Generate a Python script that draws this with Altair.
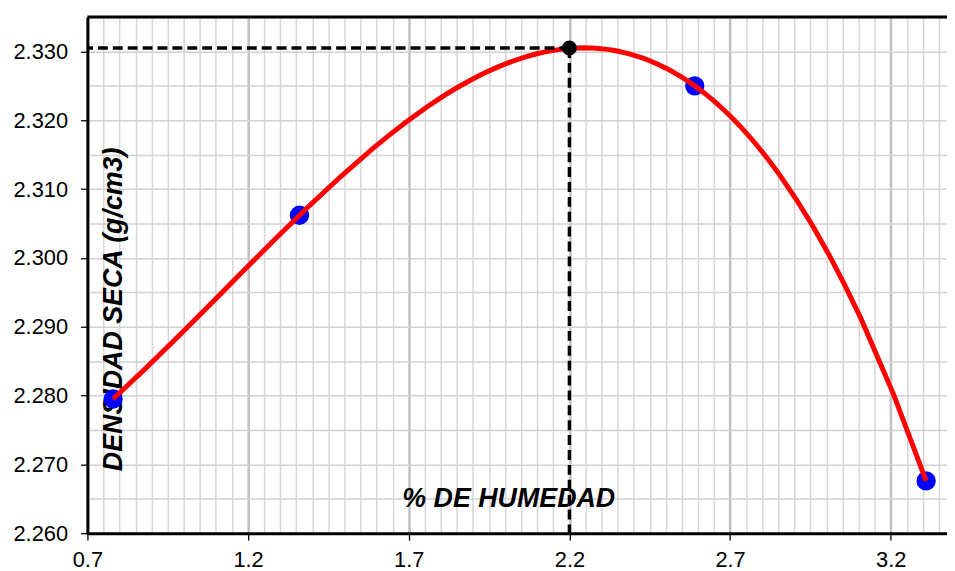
import altair as alt
import pandas as pd

# Data
humedad = [0.78, 1.36, 2.59, 3.31]
densidad = [2.2795, 2.3062, 2.3250, 2.2676]
omc = [2.2]
mdd = [2.3305]

x_ticks = [round(0.7 + 0.05 * i, 2) for i in range(54)]
y_ticks = [round(2.26 + 0.005 * i, 3) for i in range(16)]

W, H = 866, 520
pts = pd.DataFrame({"x": humedad, "y": densidad})
opt = pd.DataFrame({"x": omc, "y": mdd})

x_major = "abs((datum.value-0.7)/0.5 - round((datum.value-0.7)/0.5)) < 0.001"
y_major = "abs((datum.value-2.26)/0.01 - round((datum.value-2.26)/0.01)) < 0.001"

xscale = alt.Scale(domain=[0.7, 3.375], nice=False, zero=False)
yscale = alt.Scale(domain=[2.26, 2.335], nice=False, zero=False)

xaxis = alt.Axis(
    values=x_ticks,
    labelExpr=f"{x_major} ? format(datum.value, '.1f') : ''",
    labelOverlap=False, labelFlush=False,
    labelFont="Liberation Sans", labelFontSize=22, labelColor="black",
    labelPadding=10,
    tickSize=7, tickColor="black", tickWidth=1.3,
    tickOpacity={"condition": {"test": x_major, "value": 1}, "value": 0},
    domainColor="black", domainWidth=3,
    grid=True,
    gridColor={"condition": {"test": x_major, "value": "#c0c0c0"}, "value": "#d6d6d6"},
    gridWidth={"condition": {"test": x_major, "value": 2.5}, "value": 1.5},
    title="% DE HUMEDAD",
    titleFont="Liberation Sans", titleFontSize=27, titleFontWeight="bold",
    titleFontStyle="italic", titleColor="black",
    titleX=424, titleY=-27, titleAlign="center", titleBaseline="alphabetic",
)
yaxis = alt.Axis(
    values=y_ticks,
    labelExpr=f"{y_major} ? format(datum.value, '.3f') : ''",
    labelOverlap=False, labelFlush=False,
    labelFont="Liberation Sans", labelFontSize=22, labelColor="black",
    labelPadding=13,
    tickSize=7, tickColor="black", tickWidth=1.3,
    tickOpacity={"condition": {"test": y_major, "value": 1}, "value": 0},
    domainColor="black", domainWidth=3,
    grid=True, gridColor="#d2d2d2", gridWidth=1.5,
    title="DENSIDAD SECA (g/cm3)",
    titleFont="Liberation Sans", titleFontSize=27, titleFontWeight="bold",
    titleFontStyle="italic", titleColor="black",
    titleAngle=270, titleX=34, titleY=294, titleAlign="center",
    titleBaseline="alphabetic",
)

X = alt.X("x:Q", scale=xscale, axis=xaxis)
Y = alt.Y("y:Q", scale=yscale, axis=yaxis)

base = alt.Chart(pts)

points = base.mark_circle(color="#0000ff", opacity=1, size=380).encode(x=X, y=Y)

curve = base.transform_regression("x", "y", method="poly", order=3).mark_line(
    color="#ff0000", strokeWidth=5
).encode(x=X, y=Y)

hline = alt.Chart(opt).mark_rule(color="black", strokeWidth=3.5, strokeDash=[10, 5]).encode(
    x=X, x2=alt.datum(0.7), y=Y
)
vline = alt.Chart(opt).mark_rule(color="black", strokeWidth=3.5, strokeDash=[10, 5]).encode(
    x=X, y=Y, y2=alt.datum(2.26)
)
optpt = alt.Chart(opt).mark_circle(color="black", opacity=1, size=230).encode(x=X, y=Y)

topline = alt.Chart(opt).mark_rule(color="black", strokeWidth=3).encode(
    x=alt.value(0), x2=alt.value(W), y=alt.value(0)
)

chart = alt.layer(points, curve, hline, vline, optpt, topline).properties(
    width=W, height=H,
    autosize=alt.AutoSizeParams(type="none"),
    padding={"left": 80, "top": 7, "right": 0, "bottom": 35},
).configure_view(stroke=None).configure(background="white")

chart.save("out.html", embed_options={"renderer": "svg", "actions": False})
